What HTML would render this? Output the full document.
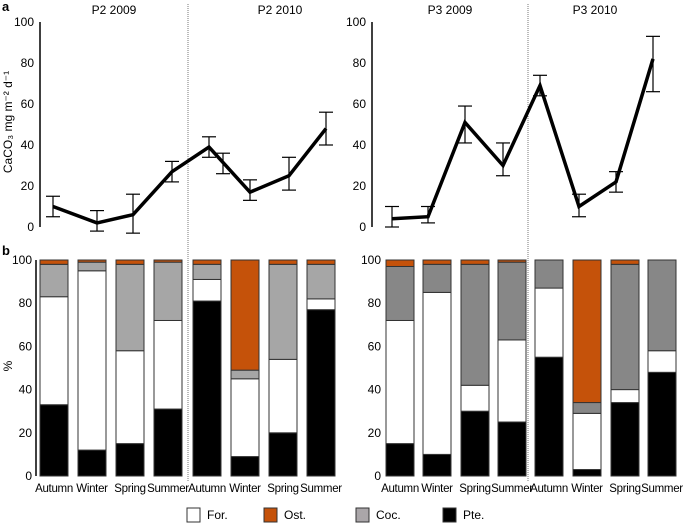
<!DOCTYPE html>
<html><head><meta charset="utf-8"><style>
body{margin:0;background:#fff}
svg{display:block;font-family:"Liberation Sans",sans-serif}
</style></head><body>
<svg id="c" width="685" height="524"></svg>
<script>
const seasons=["Autumn","Winter","Spring","Summer","Autumn","Winter","Spring","Summer"];
const p2Flux=[10,2,6,27,39,17,25,48];
const p2Lo=[5,-2,-3,22,34,13,18,40];
const p2Hi=[15,8,16,32,44,23,34,56];
const p3Flux=[4,5,51,30,69,10,22,82];
const p3Lo=[0,2,41,25,64,5,17,66];
const p3Hi=[10,10,59,41,74,16,27,93];
// stack pieces: Pte, For, Coc, Ost (top, remainder)
const p2Pte=[33,12,15,31,81,9,20,77];
const p2For=[50,83,43,41,10,36,34,5];
const p2Coc=[15,4,40,27,7,4,44,16];
const p3Pte=[15,10,30,25,55,3,34,48];
const p3For=[57,75,12,38,32,26,6,10];
const p3Coc=[25,13,56,36,13,5,58,42];
const svg=document.getElementById('c');
const NS="http://www.w3.org/2000/svg";
function el(t,a,txt){const e=document.createElementNS(NS,t);for(const k in a)e.setAttribute(k,a[k]);if(txt!=null)e.textContent=txt;svg.appendChild(e);return e;}
const yA=v=>227-v*2.05;
const yB=v=>476-v*2.16;
const panels=[
 {ax:40,xs:[53,97,133,172,209,250,289,326],flux:p2Flux,lo:p2Lo,hi:p2Hi,bx:[40,78,116,154,193,231,269,307],pte:p2Pte,fr:p2For,coc:p2Coc,cocC:"#a6a6a6",div:188,t:["P2 2009","P2 2010"],tx:[114,280],lab:32,bax:36},
 {ax:372,xs:[392,428,465,503,540,579,616,653],flux:p3Flux,lo:p3Lo,hi:p3Hi,bx:[386,423,461,498,535,573,611,648],pte:p3Pte,fr:p3For,coc:p3Coc,cocC:"#878787",div:528,t:["P3 2009","P3 2010"],tx:[450,595],lab:381,bax:null}
];
let e;
e=el('text',{x:2,y:11,'font-size':13,'font-weight':'bold'},'a');

e=el('text',{x:2,y:255,'font-size':13,'font-weight':'bold'},'b');

e=el('text',{x:0,y:0,'font-size':12,'text-anchor':'middle',transform:'translate(12,122) rotate(-90)'},'CaCO\u2083 mg m\u207B\u00B2 d\u207B\u00B9');

e=el('text',{x:0,y:0,'font-size':12,'text-anchor':'middle',transform:'translate(12,366) rotate(-90)'},'%');

panels.forEach((p,pi)=>{
 e=el('line',{x1:p.div,y1:4,x2:p.div,y2:482,stroke:'#777','stroke-width':1,'stroke-dasharray':'1,1'});
 
 p.t.forEach((t,i)=>{e=el('text',{x:p.tx[i],y:14,'font-size':12,'text-anchor':'middle'},t);
  });
 e=el('line',{x1:p.ax,y1:yA(100),x2:p.ax,y2:yA(0),stroke:'#000','stroke-width':1.5});
 
 [0,20,40,60,80,100].forEach(v=>{e=el('text',{x:p.ax-6,y:yA(v)+4,'font-size':12,'text-anchor':'end'},v);
  });
 p.xs.forEach((x,i)=>{
  const g=[[x,yA(p.lo[i]),x,yA(p.hi[i])],[x-7,yA(p.lo[i]),x+7,yA(p.lo[i])],[x-7,yA(p.hi[i]),x+7,yA(p.hi[i])]];
  g.forEach(s=>{e=el('line',{x1:s[0],y1:s[1],x2:s[2],y2:s[3],stroke:'#000','stroke-width':1.2});
   });
 });
 if(pi===0){const x=223,lo=26,hi=36;
  [[x,yA(lo),x,yA(hi)],[x-7,yA(lo),x+7,yA(lo)],[x-7,yA(hi),x+7,yA(hi)]].forEach(s=>{e=el('line',{x1:s[0],y1:s[1],x2:s[2],y2:s[3],stroke:'#000','stroke-width':1.2});
   });}
 e=el('polyline',{points:p.xs.map((x,i)=>x+','+yA(p.flux[i])).join(' '),fill:'none',stroke:'#000','stroke-width':3.5,'stroke-linejoin':'miter'});
 
 if(p.bax){e=el('line',{x1:p.bax,y1:yB(100),x2:p.bax,y2:yB(0),stroke:'#000','stroke-width':1.5});
  }
 [0,20,40,60,80,100].forEach(v=>{e=el('text',{x:p.lab,y:yB(v)+4,'font-size':12,'text-anchor':'end'},v);
  });
 p.bx.forEach((x,i)=>{
  const a=p.pte[i],b=a+p.fr[i],c=b+p.coc[i];
  const segs=[[0,a,'#000','pte'],[a,b,'#fff','for'],[b,c,p.cocC,'coc'],[c,100,'#c5520a','ost']];
  segs.forEach(s=>{if(s[1]<=s[0])return;
   e=el('rect',{x:x,y:yB(s[1]),width:28,height:yB(s[0])-yB(s[1]),fill:s[2],stroke:'#333','stroke-width':1});
   });
  e=el('text',{x:x+14,y:492,'font-size':11.5,'text-anchor':'middle','letter-spacing':'-0.3'},seasons[i]);
  
 });
});
const legN=["For.","Ost.","Coc.","Pte."],legC=["#fff","#c5520a","#aaa6a9","#000"],legX=[187,264,356,443];
legN.forEach((n,i)=>{
 e=el('rect',{x:legX[i],y:508,width:13,height:14,fill:legC[i],stroke:'#333','stroke-width':1});
 
 e=el('text',{x:legX[i]+20,y:519,'font-size':12},n);
 
});
</script>
</body></html>
